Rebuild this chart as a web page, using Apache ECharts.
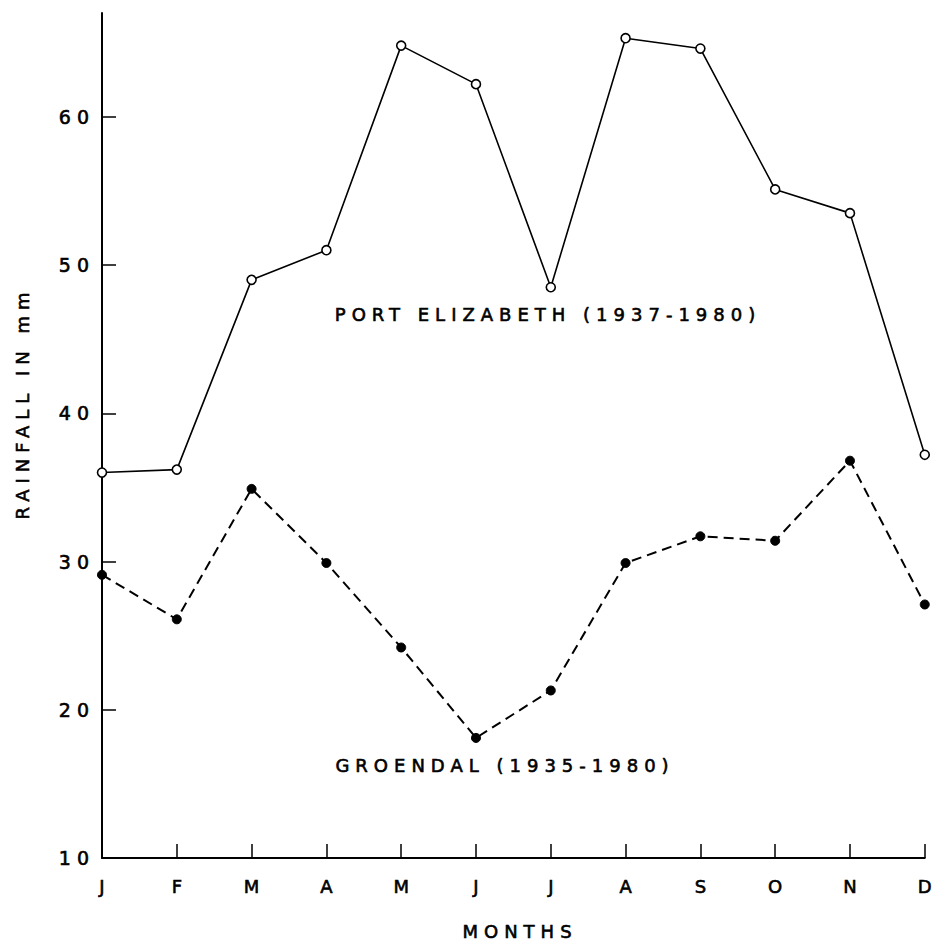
<!DOCTYPE html>
<html>
<head>
<meta charset="utf-8">
<script src="https://cdn.jsdelivr.net/npm/echarts@6/dist/echarts.min.js"></script>
<style>
  html, body { margin: 0; padding: 0; background: #fff; }
  #chart { width: 938px; height: 942px; }
  #chart svg text { letter-spacing: 6px; }
</style>
</head>
<body>
<div id="chart"></div>
<script>
// Data
var months = ['J', 'F', 'M', 'A', 'M', 'J', 'J', 'A', 'S', 'O', 'N', 'D'];
var portElizabeth = [36.0, 36.2, 49.0, 51.0, 64.8, 62.2, 48.5, 65.3, 64.6, 55.1, 53.5, 37.2];
var groendal = [29.1, 26.1, 34.9, 29.9, 24.2, 18.1, 21.3, 29.9, 31.7, 31.4, 36.8, 27.1];
var yTicks = [10, 20, 30, 40, 50, 60];
var labelPE = 'PORT ELIZABETH (1937-1980)';
var labelGR = 'GROENDAL (1935-1980)';
var xTitle = 'MONTHS';
var yTitle = 'RAINFALL IN mm';

var FONT = 'DejaVu Sans';
var TB = 0.6;
var chart = echarts.init(document.getElementById('chart'), null, { renderer: 'svg' });

function txt(t, x, y, size, rot) {
  var el = {
    type: 'text', x: x, y: y,
    style: {
      text: t, fontFamily: FONT, fontSize: size, fill: '#000',
      stroke: '#000', lineWidth: TB,
      textAlign: 'center', textVerticalAlign: 'middle'
    }
  };
  if (rot) el.rotation = rot;
  return el;
}

chart.setOption({
  animation: false,
  backgroundColor: '#fff',
  grid: { left: 102, right: 10, top: 13, bottom: 84 },
  xAxis: {
    type: 'category',
    data: months,
    boundaryGap: false,
    axisLine: { lineStyle: { color: '#000', width: 2 } },
    axisTick: { inside: true, length: 14, lineStyle: { color: '#000', width: 1.5 } },
    axisLabel: { color: '#000', fontFamily: FONT, fontSize: 18, margin: 19, padding: [0, 0, 0, 6],
      textBorderColor: '#000', textBorderWidth: TB },
    splitLine: { show: false }
  },
  yAxis: {
    type: 'value',
    min: 10,
    max: 67,
    interval: 10,
    axisLine: { show: true, lineStyle: { color: '#000', width: 2 } },
    axisTick: { show: true, inside: true, length: 14, customValues: yTicks, lineStyle: { color: '#000', width: 1.5 } },
    axisLabel: { color: '#000', fontFamily: FONT, fontSize: 19, margin: 7, customValues: yTicks,
      textBorderColor: '#000', textBorderWidth: TB },
    splitLine: { show: false }
  },
  series: [
    {
      name: labelPE,
      type: 'line',
      data: portElizabeth,
      symbol: 'circle',
      symbolSize: 9,
      showAllSymbol: true,
      lineStyle: { color: '#000', width: 1.6 },
      itemStyle: { color: '#fff', borderColor: '#000', borderWidth: 1.6 },
      z: 3
    },
    {
      name: labelGR,
      type: 'line',
      data: groendal,
      symbol: 'circle',
      symbolSize: 9,
      showAllSymbol: true,
      lineStyle: { color: '#000', width: 2, type: [10, 6] },
      itemStyle: { color: '#000', borderColor: '#000', borderWidth: 1 },
      z: 3
    }
  ],
  graphic: [
    txt(labelPE, 548, 314, 18),
    txt(labelGR, 505, 765, 18),
    txt(xTitle, 520, 931, 18),
    txt(yTitle, 22, 403, 18, Math.PI / 2)
  ]
});
</script>
</body>
</html>
